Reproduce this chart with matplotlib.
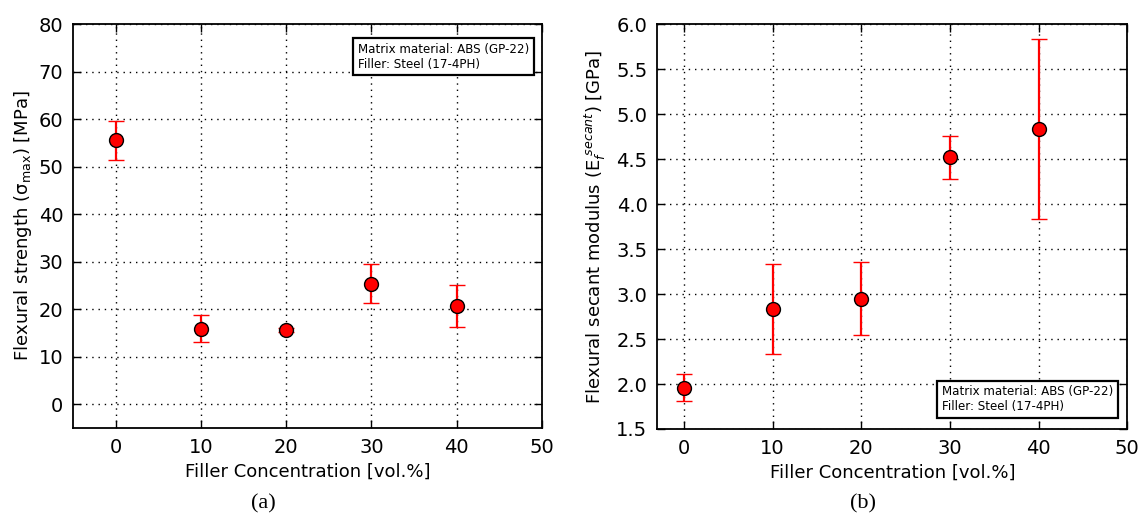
import numpy as np
import matplotlib
matplotlib.use("Agg")
import matplotlib.pyplot as plt
from matplotlib.ticker import FormatStrFormatter

conc = [0, 10, 20, 30, 40]

strength = [55.6, 15.9, 15.6, 25.4, 20.6]
strength_err = [4.1, 2.8, 0.5, 4.1, 4.4]

modulus = [1.96, 2.83, 2.95, 4.52, 4.84]
modulus_err = [0.15, 0.50, 0.41, 0.24, 1.00]

BOX_TEXT = "Matrix material: ABS (GP-22)\nFiller: Steel (17-4PH)"

plt.rcParams["font.family"] = "DejaVu Sans"
plt.rcParams["mathtext.fontset"] = "dejavusans"

fig = plt.figure(figsize=(11.41, 5.15), dpi=100)
ax1 = fig.add_axes([0.064, 0.169, 0.411, 0.784])
ax2 = fig.add_axes([0.576, 0.167, 0.412, 0.786])


def style(ax):
    ax.grid(True, color="black", linestyle=(0, (1, 3.5)), linewidth=1.0)
    ax.set_axisbelow(True)
    ax.tick_params(direction="in", length=6, width=1, top=True, right=True,
                   labelsize=14, pad=7)
    for s in ax.spines.values():
        s.set_linewidth(1.3)
    ax.set_xticks([0, 10, 20, 30, 40, 50])
    ax.set_xlabel("Filler Concentration [vol.%]", fontsize=13, labelpad=4)


def points(ax, y, yerr):
    ax.errorbar(conc, y, yerr=yerr, fmt="o", color="red", ecolor="red",
                elinewidth=1.6, capsize=5.5, capthick=1.2,
                markersize=10, markerfacecolor="red", markeredgecolor="black",
                markeredgewidth=1.0, zorder=5)


def note(ax, x, y, va):
    ax.text(x, y, BOX_TEXT, transform=ax.transAxes, ha="right", va=va,
            multialignment="left", fontsize=8.6, linespacing=1.15,
            bbox=dict(boxstyle="square,pad=0.4", facecolor="white",
                      edgecolor="black", linewidth=1.6), zorder=6)


# (a) strength
style(ax1)
points(ax1, strength, strength_err)
ax1.set_xlim(-5, 50)
ax1.set_ylim(-5, 80)
ax1.set_yticks(np.arange(0, 81, 10))
ax1.set_ylabel(r"Flexural strength (σ$_{\mathrm{max}}$) [MPa]", fontsize=13, labelpad=3)
note(ax1, 0.972, 0.953, "top")

# (b) modulus
style(ax2)
points(ax2, modulus, modulus_err)
ax2.set_xlim(-3, 50)
ax2.set_ylim(1.5, 6.0)
ax2.set_yticks(np.arange(1.5, 6.01, 0.5))
ax2.yaxis.set_major_formatter(FormatStrFormatter("%.1f"))
ax2.set_ylabel(r"Flexural secant modulus (E$_f^{\ secant}$) [GPa]", fontsize=13, labelpad=6)
note(ax2, 0.970, 0.04, "bottom")

fig.text(0.231, 0.012, "(a)", fontsize=16, family="Liberation Serif", ha="center")
fig.text(0.756, 0.012, "(b)", fontsize=16, family="Liberation Serif", ha="center")

fig.savefig("out.png", dpi=100)
